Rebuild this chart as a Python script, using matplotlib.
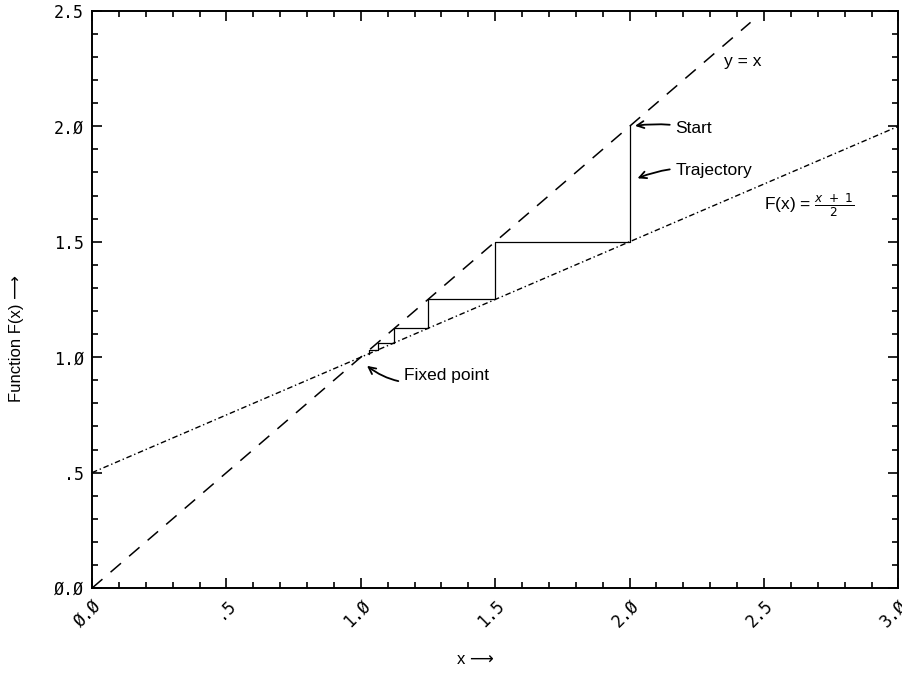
import matplotlib.pyplot as plt
import numpy as np

# line y = x (dashed) and F(x) = (x+1)/2 (dash-dot)
diag_x = [0.0, 2.45]
diag_y = [0.0, 2.45]
fx_x = [0.0, 3.0]
fx_y = [0.5, 2.0]

# trajectory staircase from x = 2 toward the fixed point
traj_x = [2.0, 2.0, 1.5, 1.5, 1.25, 1.25, 1.125, 1.125, 1.0625, 1.0625, 1.03125, 1.03125]
traj_y = [2.0, 1.5, 1.5, 1.25, 1.25, 1.125, 1.125, 1.0625, 1.0625, 1.03125, 1.03125, 1.015625]

xticks = [0.0, 0.5, 1.0, 1.5, 2.0, 2.5, 3.0]
xticklabels = ['Ø.Ø', '.5', '1.Ø', '1.5', '2.Ø', '2.5', '3.Ø']
yticks = [0.0, 0.5, 1.0, 1.5, 2.0, 2.5]
yticklabels = ['Ø.Ø', '.5', '1.Ø', '1.5', '2.Ø', '2.5']

fig = plt.figure(figsize=(9.02, 6.76), dpi=100)
ax = fig.add_axes([0.102, 0.130, 0.894, 0.854])

ax.plot(diag_x, diag_y, color='black', lw=1.1, dashes=(9, 7))
ax.plot(fx_x, fx_y, color='black', lw=1.0, dashes=(4, 2, 1, 2))
ax.plot(traj_x, traj_y, color='black', lw=0.9)

ax.set_xlim(0, 3)
ax.set_ylim(0, 2.5)
ax.set_xticks(xticks)
ax.set_xticklabels(xticklabels, rotation=45, ha='right', va='top',
                   rotation_mode='anchor', family='DejaVu Sans Mono', fontsize=12)
ax.set_yticks(yticks)
ax.set_yticklabels(yticklabels, family='DejaVu Sans Mono', fontsize=12)
ax.set_xticks(np.arange(0, 3.01, 0.1), minor=True)
ax.set_yticks(np.arange(0, 2.51, 0.1), minor=True)
ax.tick_params(which='both', direction='in', top=True, right=True, width=1.2)
ax.tick_params(which='major', length=7, pad=6)
ax.tick_params(which='minor', length=4)
for s in ax.spines.values():
    s.set_linewidth(1.4)

fam = ['Liberation Sans', 'DejaVu Sans']
tf = dict(fontsize=12.5, family=fam)
ax.text(2.35, 2.28, 'y = x', va='center', **tf)
ax.annotate('Start', xy=(2.01, 2.0), xytext=(2.17, 1.99), va='center',
            arrowprops=dict(arrowstyle='->', color='black', lw=1.3,
                            connectionstyle='arc3,rad=0.1'), **tf)
ax.annotate('Trajectory', xy=(2.02, 1.77), xytext=(2.17, 1.81), va='center',
            arrowprops=dict(arrowstyle='->', color='black', lw=1.3,
                            connectionstyle='arc3,rad=0.15'), **tf)
ax.text(2.5, 1.66, r'F(x) = $\frac{x\ +\ 1}{2}$', va='center', **tf)
ax.annotate('Fixed point', xy=(1.015, 0.97), xytext=(1.16, 0.92), va='center',
            arrowprops=dict(arrowstyle='->', color='black', lw=1.3,
                            connectionstyle='arc3,rad=-0.3'), **tf)

fig.text(0.018, 0.50, 'Function F(x) \u27f6', rotation=90, ha='center',
         va='center', fontsize=12, family=fam)
fig.text(0.527, 0.025, 'x \u27f6', ha='center', va='center',
         fontsize=12, family=fam)

fig.savefig('out.png', dpi=100)
